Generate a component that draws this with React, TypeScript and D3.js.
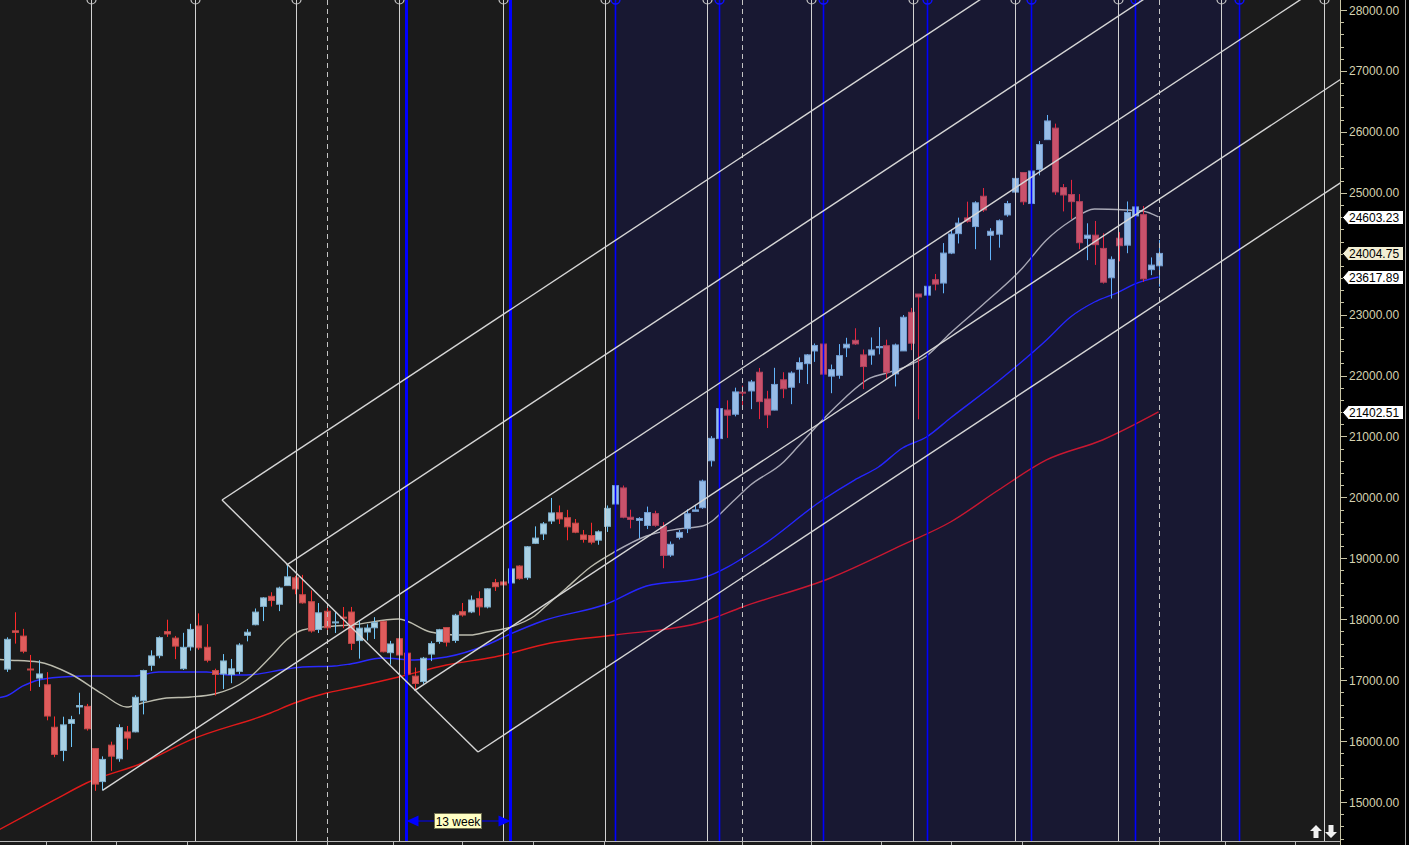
import React from 'react';
import * as d3 from 'd3';

const W = 1409;
const H = 845;
const PLOT_R = 1340;
const PLOT_B = 841;

// Weekly candles, index 0 = week ending 1 Apr 2022, index 144 = week ending 3 Jan 2025
const opens = [17181,17810,17723,17183,17034,16924,16227,15845,16290,16560,
 16570,15877,15335,15933,15710,16150,16151,16662,17244,17402,
 17797,17690,17188,17546,17890,17540,17157,17102,17094,17144,
 17736,17910,18211,18376,18246,18552,18680,18402,18288,17831,
 18131,17952,18034,18118,17649,17790,17860,17965,17451,17680,
 17443,17066,16977,17428,17634,17863,17652,18124,18120,18339,
 18201,18600,18612,18595,18873,18682,19246,19400,19612,19748,
 19666,19576,19383,19374,19298,19525,19891,20155,19674,19622,
 19539,19733,19521,19053,19345,19486,19771,19831,20601,20965,
 21434,21365,21728,21747,22054,21615,21433,21930,21808,22103,
 22195,22403,22517,21990,22004,22455,22578,22339,22336,22456,
 22489,22027,22404,23038,23338,23320,23573,23518,24010,24329,
 24587,24445,24943,24302,24320,24636,25011,25333,24823,25383,
 25872,26061,25084,24971,24854,24251,24304,24087,23605,24254,
 24140,24620,24641,23738,23801];
const highs = [17703,18114,17842,17414,17328,17132,16404,16400,16414,16793,
 16610,15886,15749,15990,16275,16248,16752,17172,17490,17719,
 17992,17726,17777,17925,18096,17919,17188,17428,17348,17607,
 17838,18176,18362,18443,18534,18888,18712,18728,18473,18265,
 18252,18127,18201,18202,17972,17916,18034,17972,17645,17800,
 17529,17207,17381,17638,17842,17863,18089,18267,18389,18458,
 18508,18662,18777,18826,18887,19202,19524,19595,19991,19867,
 19795,19645,19465,19584,19458,19867,20222,20195,19798,19675,
 19849,19781,19593,19276,19463,19806,19875,20291,21006,21492,
 21593,21801,21834,21928,22124,21750,22127,22054,22069,22297,
 22353,22526,22527,22180,22516,22620,22776,22427,22625,22794,
 22588,22525,22993,23111,23339,23490,23667,24174,24401,24592,
 24854,24861,25078,24419,24563,24867,25268,25333,25433,25850,
 26277,26135,25143,25212,24978,24499,24537,24336,23956,24354,
 24857,24792,24782,23939,24226];
const lows = [17135,17600,17442,16824,16889,16341,15735,15670,15903,16440,
 16172,15183,15191,15511,15661,15858,16143,16438,17154,17359,
 17710,17345,17167,17484,17498,17292,16748,16855,16950,17098,
 17637,17900,17969,18209,18133,18552,18410,18255,17780,17774,
 17796,17774,17853,17494,17353,17652,17676,17455,17255,17324,
 16850,16828,16940,17313,17597,17553,17612,18042,18100,18060,
 18178,18464,18516,18552,18647,18647,19234,19300,19562,19563,
 19296,19412,19257,19229,19223,19433,19866,19657,19492,19333,
 19480,19518,18837,19024,19309,19414,19768,19813,20507,20770,
 20976,21330,21500,21448,21285,21138,21429,21629,21530,21875,
 21860,22224,21905,21710,21947,22303,22503,21777,22177,22348,
 21932,21821,22404,22417,21281,23206,23398,23350,23993,24168,
 24508,24074,24686,23893,24099,24607,24866,24801,24753,25286,
 25871,24966,24694,24568,24073,23894,23816,23509,23263,23874,
 24008,24180,23537,23648,23460];
const closes = [17670,17784,17475,17172,17102,16411,15782,16266,16352,16584,
 16202,15294,15699,15752,16221,16049,16719,17158,17398,17698,
 17758,17559,17539,17833,17531,17327,17094,17315,17186,17576,
 17787,18117,18350,18307,18512,18696,18497,18269,17807,18105,
 17860,17956,18027,17604,17854,17856,17944,17466,17594,17413,
 17100,16945,17360,17600,17828,17624,18065,18069,18315,18203,
 18499,18534,18563,18826,18666,19189,19332,19565,19745,19646,
 19517,19428,19310,19265,19435,19820,20193,19674,19638,19654,
 19751,19542,19047,19230,19425,19732,19795,20268,20969,21457,
 21349,21731,21711,21895,21572,21353,21854,21783,22041,22213,
 22339,22494,22023,22097,22327,22514,22519,22147,22420,22476,
 22055,22502,22957,22531,23290,23465,23501,24010,24323,24502,
 24531,24835,24718,24368,24541,24823,25236,24852,25357,25791,
 26179,25014,24964,24854,24180,24304,24148,23532,23907,24131,
 24677,24768,23587,23813,24004.75];

// Moving averages (week index, value)
const maShortIdx = [-1,0,4,8,12,15,17,20,23,26,30,33,35,37,41,43,49,53,56,58,60,63,66,68,70,73,76,80,84,87,91,93,97,99,102,104,108,110,112,115,118,122,127,130,133,136,140,142,144];
const maShortVal = [17340,17331,17298,17101,16773,16559,16625,16707,16724,16773,17003,17380,17659,17823,17889,17905,18004,17790,17741,17741,17790,17872,18053,18283,18513,18857,19104,19366,19481,19530,19957,20203,20564,20843,21270,21533,21960,22042,22124,22321,22698,23158,23765,24225,24537,24734,24717,24701,24603.23];
const maMidIdx = [-1,0,2,4,7,10,16,19,25,28,30,35,37,41,43,47,51,55,60,63,67,75,80,87,94,102,106,109,112,115,118,124,130,133,136,139,141,144];
const maMidVal = [16710,16740,16900,17003,17052,17068,17068,17134,17134,17085,17085,17183,17216,17232,17265,17364,17331,17380,17577,17758,17971,18250,18546,18677,19169,19957,20285,20499,20811,20991,21303,21910,22583,22961,23207,23371,23502,23617.89];
const maLongIdx = [-1,6,10,17,23,33,36,40,43,49,55,61,68,76,87,92,103,112,118,124,130,137,144];
const maLongVal = [14540,15033,15312,15640,16018,16461,16625,16789,16871,17052,17249,17380,17610,17741,17955,18201,18677,19219,19596,20121,20614,20942,21402.51];

const priceTicks = d3.range(15000, 28001, 1000);
const minorTicks = d3.range(14400, 28201, 200);
const timeTicks = [4.9, 13.7, 22.6, 40, 48.3, 57, 65.8, 74.7, 92, 100.6, 109.3, 118, 126.9, 144, 152.3, 161];
const cycleLines = [10.62, 23.5, 36.19, 49.12, 62.02, 74.75, 87.56, 100.56, 113.31, 126.06, 138.94, 151.81, 164.69];
const yearLines = [40, 92, 144];
const quarterLines = [50, 63, 76, 89, 102, 115, 128, 141, 154];
const highlightRange = [76, 154];
const channelSlope = 86.67;
const channelAnchors: [number, number][] = [[26.94, 19957], [35, 18888], [12, 15191], [51, 16828], [58.94, 15821]];
const crossLine: [number, number][] = [[26.94, 19957], [58.94, 15821]];
const measure = { from: 50, to: 63, label: '13 week' };
const valueTags = [
  { v: 24603.23, bg: '#ffffff' },
  { v: 24004.75, bg: '#f2eed4' },
  { v: 23617.89, bg: '#ffffff' },
  { v: 21402.51, bg: '#ffffff' },
];

export default function App() {
  const x = d3.scaleLinear().domain([0, 144]).range([6.5, 1158.5]);
  const y = d3.scaleLinear().domain([15000, 28000]).range([802, 10]);
  const px = (v: number) => Math.round(x(v)) + 0.5;

  const line = d3.line<[number, number]>()
    .x(d => x(d[0]))
    .y(d => y(d[1]))
    .curve(d3.curveMonotoneX);
  const mk = (a: number[], b: number[]) => a.map((v, i) => [v, b[i]] as [number, number]);

  const candles = opens.map((o, i) => ({ i, o, h: highs[i], l: lows[i], c: closes[i] }));

  const fmt = d3.format('.2f');

  return (
    <svg width={W} height={H} style={{ position: 'absolute', left: 0, top: 0, display: 'block', background: '#000' }}
      fontFamily="'Liberation Sans', Arial, Helvetica, sans-serif">
      <defs>
        <clipPath id="plotClip"><rect x={0} y={0} width={PLOT_R} height={PLOT_B} /></clipPath>
      </defs>
      <rect x={0} y={0} width={PLOT_R} height={H} fill="#1b1b1b" />
      <g clipPath="url(#plotClip)">
        {/* moving averages */}
        <path d={line(mk(maLongIdx, maLongVal)) || ''} fill="none" stroke="#e01a1a" strokeWidth={1.4} />
        <path d={line(mk(maMidIdx, maMidVal)) || ''} fill="none" stroke="#2a2aff" strokeWidth={1.4} />
        <path d={line(mk(maShortIdx, maShortVal)) || ''} fill="none" stroke="#bcbcae" strokeWidth={1.4} />
        {/* candles */}
        {candles.map(d => {
          const up = d.c >= d.o;
          const cx = px(d.i);
          const top = y(Math.max(d.o, d.c));
          const bot = y(Math.min(d.o, d.c));
          const hgt = Math.max(1, bot - top);
          return (
            <g key={d.i}>
              <line x1={cx} x2={cx} y1={y(d.h)} y2={y(d.l)} stroke={up ? '#6ec8fb' : '#ff2a2a'} strokeWidth={1} />
              <rect x={cx - 3} y={top} width={6} height={hgt}
                fill={up ? '#a9d1e4' : '#e05c5c'} stroke={up ? '#7eaecb' : '#c24a4a'} strokeWidth={1} />
            </g>
          );
        })}
        {/* highlight band */}
        <rect x={x(highlightRange[0])} y={0} width={x(highlightRange[1]) - x(highlightRange[0])} height={PLOT_B}
          fill="#0000ff" fillOpacity={0.1} />
        {/* vertical cycle lines */}
        {cycleLines.map((v, k) => (
          <g key={'c' + k}>
            <line x1={px(v)} x2={px(v)} y1={0} y2={PLOT_B} stroke="#d2d2d2" strokeWidth={1} />
            <circle cx={px(v)} cy={-0.5} r={4.5} fill="none" stroke="#c8c8c8" strokeWidth={1.2} />
          </g>
        ))}
        {yearLines.map((v, k) => (
          <line key={'y' + k} x1={px(v)} x2={px(v)} y1={0} y2={PLOT_B} stroke="#c4c4c4" strokeWidth={1} strokeDasharray="5,4" />
        ))}
        {quarterLines.map((v, k) => (
          <g key={'q' + k}>
            <line x1={k < 2 ? x(v) : px(v)} x2={k < 2 ? x(v) : px(v)} y1={0} y2={PLOT_B}
              stroke="#0000ff" strokeWidth={k < 2 ? 3 : 1.6} />
            {k >= 2 && <circle cx={px(v)} cy={-0.5} r={4.5} fill="none" stroke="#1010ff" strokeWidth={1.4} />}
          </g>
        ))}
        {/* channel drawing */}
        {channelAnchors.map(([i0, p0], k) => (
          <line key={'ch' + k} x1={x(i0)} y1={y(p0)} x2={x(220)} y2={y(p0 + channelSlope * (220 - i0))}
            stroke="#d6d6d6" strokeWidth={1.4} />
        ))}
        <line x1={x(crossLine[0][0])} y1={y(crossLine[0][1])} x2={x(crossLine[1][0])} y2={y(crossLine[1][1])}
          stroke="#d6d6d6" strokeWidth={1.4} />
        {/* measure */}
        <g>
          <line x1={x(measure.from)} x2={x(measure.to)} y1={821} y2={821} stroke="#0000ff" strokeWidth={1} />
          <path d={`M${x(measure.from)},821 L${x(measure.from) + 12},815.5 L${x(measure.from) + 12},826.5 Z`} fill="#0000ff" />
          <path d={`M${x(measure.to)},821 L${x(measure.to) - 12},815.5 L${x(measure.to) - 12},826.5 Z`} fill="#0000ff" />
          <rect x={434.5} y={813.5} width={47} height={15} fill="#ffffc4" stroke="#707050" strokeWidth={1} />
          <text x={458} y={825.5} fontSize={12} textAnchor="middle" fill="#000">{measure.label}</text>
        </g>
        {/* scroll arrows */}
        <path d="M1316,825 L1322,831 L1318.5,831 L1318.5,838 L1313.5,838 L1313.5,831 L1310,831 Z" fill="#f0f0f0" />
        <path d="M1331,838 L1337,832 L1333.5,832 L1333.5,825 L1328.5,825 L1328.5,832 L1325,832 Z" fill="#f0f0f0" />
      </g>
      {/* bottom axis */}
      <line x1={0} x2={PLOT_R} y1={PLOT_B + 0.5} y2={PLOT_B + 0.5} stroke="#b8b8b8" strokeWidth={1} />
      {timeTicks.map((v, k) => (
        <line key={'t' + k} x1={px(v)} x2={px(v)} y1={PLOT_B} y2={H} stroke="#b8b8b8" strokeWidth={1} />
      ))}
      {/* price axis */}
      <rect x={PLOT_R} y={0} width={W - PLOT_R} height={H} fill="#000" />
      <line x1={PLOT_R + 0.5} x2={PLOT_R + 0.5} y1={0} y2={H} stroke="#c8c4a4" strokeWidth={1} />
      {minorTicks.map((v, k) => (
        <line key={'m' + k} x1={PLOT_R} x2={PLOT_R + 4} y1={Math.round(y(v)) + 0.5} y2={Math.round(y(v)) + 0.5} stroke="#c8c4a4" strokeWidth={1} />
      ))}
      {priceTicks.map((v, k) => (
        <g key={'p' + k}>
          <line x1={PLOT_R} x2={PLOT_R + 7} y1={Math.round(y(v)) + 0.5} y2={Math.round(y(v)) + 0.5} stroke="#c8c4a4" strokeWidth={1} />
          <text x={1349} y={y(v) + 4.5} fontSize={12} fill="#d6d2b0">{fmt(v)}</text>
        </g>
      ))}
      {valueTags.map((t, k) => {
        const yy = Math.round(y(t.v)) + 0.5;
        return (
          <g key={'v' + k}>
            <path d={`M${1342.5},${yy} L${1348.5},${yy - 7} L${1403.5},${yy - 7} L${1403.5},${yy + 7} L${1348.5},${yy + 7} Z`}
              fill={t.bg} stroke="#000" strokeWidth={1} />
            <text x={1349} y={yy + 4.5} fontSize={12} fill="#000">{fmt(t.v)}</text>
          </g>
        );
      })}
      <line x1={1405.5} x2={1405.5} y1={0} y2={H} stroke="#a0a0a0" strokeWidth={1} />
    </svg>
  );
}
